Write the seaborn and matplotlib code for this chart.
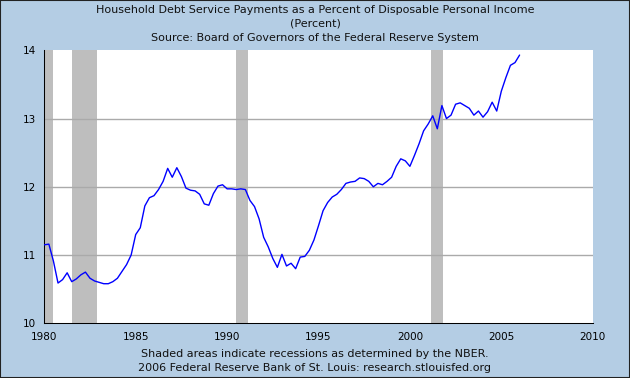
import numpy as np
import pandas as pd
import matplotlib
matplotlib.use('Agg')
import matplotlib.pyplot as plt
import seaborn as sns

# Quarterly debt service ratio, 1980Q1 - 2006Q1
start_year = 1980
dsr = [
    11.15, 11.16, 10.91, 10.59, 10.64, 10.74, 10.61, 10.65,
    10.71, 10.75, 10.66, 10.62, 10.60, 10.58, 10.58, 10.61,
    10.66, 10.76, 10.86, 11.00, 11.30, 11.40, 11.72, 11.84,
    11.87, 11.96, 12.08, 12.27, 12.14, 12.28, 12.15, 11.98,
    11.95, 11.94, 11.89, 11.75, 11.73, 11.90, 12.01, 12.03,
    11.97, 11.97, 11.96, 11.97, 11.96, 11.80, 11.71, 11.53,
    11.26, 11.12, 10.95, 10.82, 11.01, 10.84, 10.88, 10.80,
    10.97, 10.98, 11.07, 11.22, 11.43, 11.65, 11.77, 11.85,
    11.89, 11.96, 12.05, 12.07, 12.08, 12.13, 12.12, 12.08,
    12.00, 12.05, 12.03, 12.08, 12.14, 12.30, 12.41, 12.38,
    12.30, 12.46, 12.63, 12.82, 12.92, 13.04, 12.85, 13.19,
    13.00, 13.05, 13.21, 13.23, 13.19, 13.15, 13.05, 13.11,
    13.02, 13.10, 13.24, 13.11, 13.40, 13.60, 13.78, 13.82,
    13.93,
]

# NBER recessions (decimal years)
rec_start = [1980.0, 1981.5, 1990.5, 2001.17]
rec_end = [1980.5, 1982.88, 1991.17, 2001.83]

xticks = [1980, 1985, 1990, 1995, 2000, 2005, 2010]
yticks = [10, 11, 12, 13, 14]

df = pd.DataFrame({
    'year': start_year + np.arange(len(dsr)) / 4.0,
    'dsr': dsr,
})

bg = '#B4CDE4'
sns.set_theme(style='white')
plt.rcParams['font.family'] = ['DejaVu Sans']

fig = plt.figure(figsize=(6.3, 3.78), dpi=100, facecolor=bg)
ax = fig.add_axes([44.3 / 630, 1 - 323.3 / 378, (592.7 - 44.3) / 630, (323.3 - 50.3) / 378])
ax.set_facecolor('white')

for s, e in zip(rec_start, rec_end):
    ax.axvspan(s, e, facecolor='#BEBEBE', edgecolor='none', lw=0, zorder=1)

for y in yticks[1:-1]:
    ax.axhline(y, color='#AAAAAA', lw=1, zorder=2)

sns.lineplot(data=df, x='year', y='dsr', color='#0000FF', lw=1, ax=ax, zorder=3)

ax.set_xlim(1980, 2010)
ax.set_ylim(10, 14)
ax.set_xticks(xticks)
ax.set_yticks(yticks)
ax.set_xticklabels([str(t) for t in xticks])
ax.set_yticklabels([str(t) for t in yticks])
ax.set_xlabel('')
ax.set_ylabel('')
ax.tick_params(axis='both', direction='in', length=4, width=0.75, color='black',
               labelsize=7.5, labelcolor='black')
ax.tick_params(axis='x', pad=6)
ax.tick_params(axis='y', pad=6)

for side in ['top', 'right']:
    ax.spines[side].set_visible(False)
for side in ['left', 'bottom']:
    ax.spines[side].set_color('black')
    ax.spines[side].set_linewidth(0.75)

fs = 8
fig.text(0.5, 1 - 10 / 378, 'Household Debt Service Payments as a Percent of Disposable Personal Income',
         ha='center', va='center', fontsize=fs, color='#111111')
fig.text(0.5, 1 - 24 / 378, '(Percent)', ha='center', va='center', fontsize=fs, color='#111111')
fig.text(0.5, 1 - 38 / 378, 'Source: Board of Governors of the Federal Reserve System',
         ha='center', va='center', fontsize=fs, color='#111111')
fig.text(0.5, 1 - 354 / 378, 'Shaded areas indicate recessions as determined by the NBER.',
         ha='center', va='center', fontsize=fs, color='#111111')
fig.text(0.5, 1 - 368 / 378, '2006 Federal Reserve Bank of St. Louis: research.stlouisfed.org',
         ha='center', va='center', fontsize=fs, color='#111111')

# dark frame around the figure
fig.patches.append(plt.Rectangle((0, 0), 1, 1, transform=fig.transFigure, fill=False,
                                 edgecolor='#222222', lw=1.5))

fig.savefig('out.png', dpi=100, facecolor=bg)
